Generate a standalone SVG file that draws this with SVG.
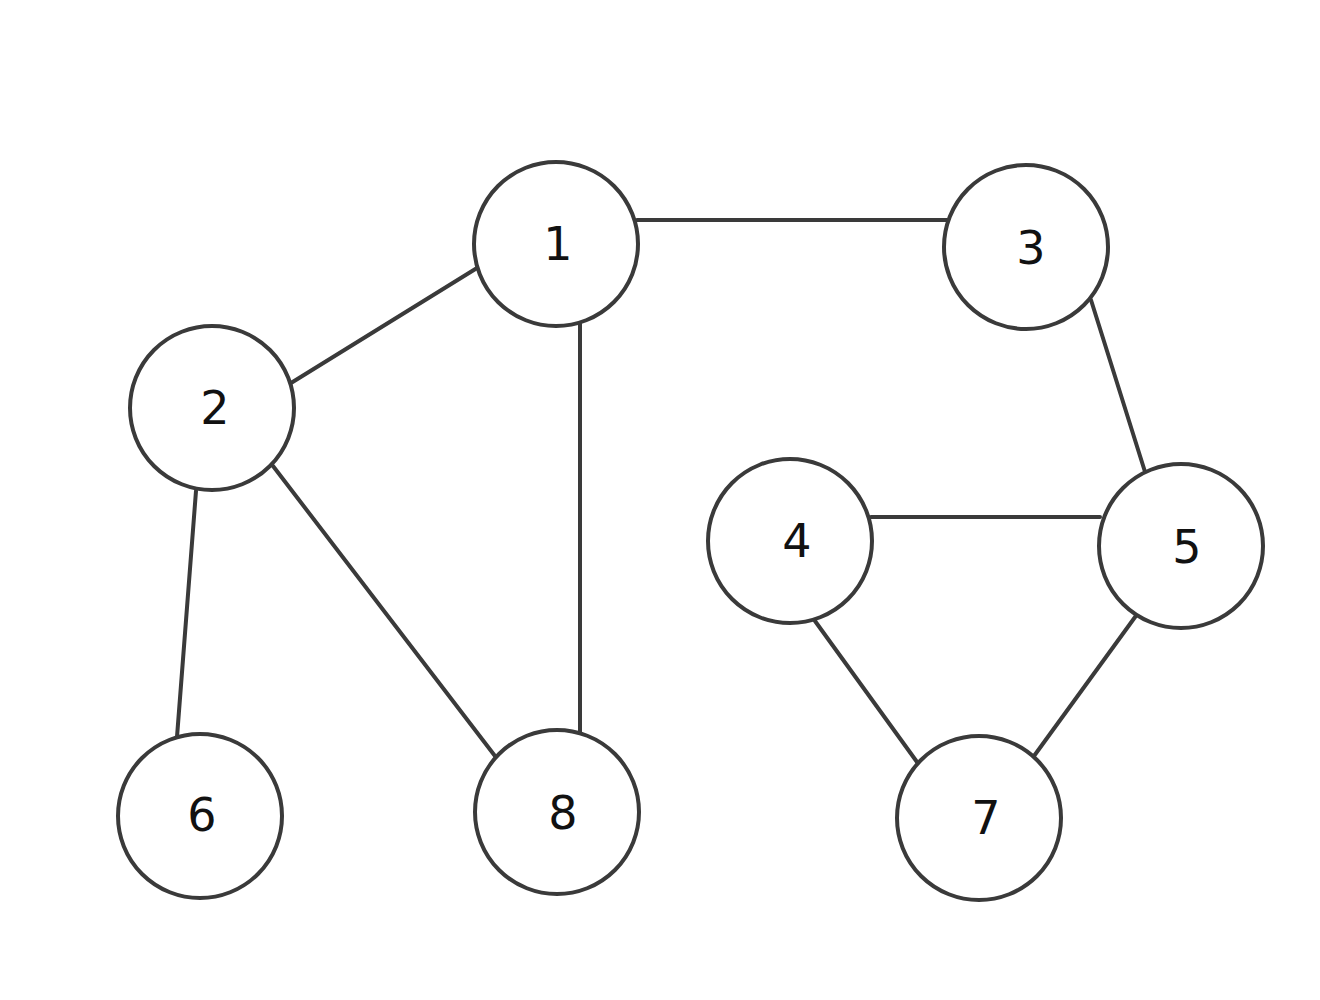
<svg xmlns="http://www.w3.org/2000/svg" width="1320" height="1000" viewBox="0 0 1320 1000">
<style>
.n{fill:#fff;stroke:#3a3a3a;stroke-width:4}
.e{stroke:#3a3a3a;stroke-width:4;fill:none;stroke-linecap:round}
.t{font-family:"DejaVu Sans",sans-serif;font-size:46px;fill:#111;text-anchor:middle}
</style>
<rect width="1320" height="1000" fill="#fff"/>
<g id="edges">
<line class="e" x1="637" y1="220" x2="947" y2="220"/>
<line class="e" x1="477" y1="268" x2="291" y2="383"/>
<line class="e" x1="580" y1="324" x2="580" y2="732"/>
<line class="e" x1="196" y1="491" x2="177" y2="737"/>
<line class="e" x1="273" y1="466" x2="495" y2="756"/>
<line class="e" x1="1091" y1="300" x2="1146" y2="475"/>
<line class="e" x1="871" y1="517" x2="1100" y2="517"/>
<line class="e" x1="815" y1="621" x2="917" y2="762"/>
<line class="e" x1="1138" y1="613" x2="1034" y2="756"/>
</g>
<g id="node1"><circle class="n" cx="556" cy="244" r="82"/><text class="t" x="558" y="260">1</text></g>
<g id="node2"><circle class="n" cx="212" cy="408" r="82"/><text class="t" x="215" y="424">2</text></g>
<g id="node3"><circle class="n" cx="1026" cy="247" r="82"/><text class="t" x="1031" y="264">3</text></g>
<g id="node4"><circle class="n" cx="790" cy="541" r="82"/><text class="t" x="797" y="557">4</text></g>
<g id="node5"><circle class="n" cx="1181" cy="546" r="82"/><text class="t" x="1187" y="563">5</text></g>
<g id="node6"><circle class="n" cx="200" cy="816" r="82"/><text class="t" x="202" y="831">6</text></g>
<g id="node7"><circle class="n" cx="979" cy="818" r="82"/><text class="t" x="986" y="834">7</text></g>
<g id="node8"><circle class="n" cx="557" cy="812" r="82"/><text class="t" x="563" y="829">8</text></g>
</svg>
